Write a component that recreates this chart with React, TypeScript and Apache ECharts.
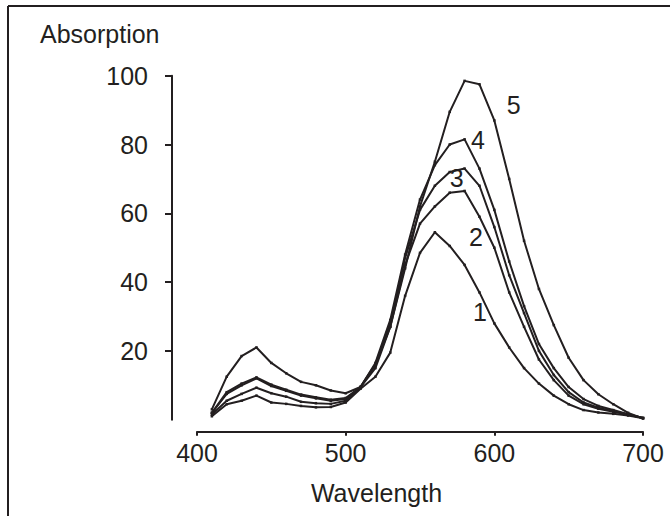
import React, { useEffect, useRef } from "react";
import * as echarts from "echarts";

const wavelengths = [410, 420, 430, 440, 450, 460, 470, 480, 490, 500, 510, 520, 530, 540, 550, 560, 570, 580, 590, 600, 610, 620, 630, 640, 650, 660, 670, 680, 690, 700];

const series1 = [1, 4.5, 5.5, 7, 5, 4.6, 4, 3.6, 3.7, 5, 9, 12.5, 19.5, 36, 48.5, 54.5, 50.5, 45, 37, 28, 21, 15, 10.5, 7, 4.5, 2.8, 2.1, 1.7, 1.2, 0.4];
const series2 = [1.5, 5.5, 7.5, 9.3, 7.7, 6.7, 5.2, 4.8, 4.6, 5.5, 9.5, 15, 27, 45, 57, 62, 66, 66.5, 59, 50, 37, 27, 17.5, 11.5, 7, 4.5, 3.2, 2.3, 1.5, 0.5];
const series3 = [2, 7.5, 10, 12, 9.8, 8.4, 7, 6.2, 5.5, 6, 9.5, 16, 28, 47, 61, 68, 72, 73, 68, 56, 42, 31, 20, 13, 8, 5, 3.5, 2.5, 1.5, 0.5];
const series4 = [2, 8, 10.5, 12.3, 10.2, 8.7, 7.3, 6.5, 5.8, 6.3, 9.5, 16.5, 29, 48, 64, 74, 80, 81.5, 73, 61, 46, 33, 22, 15, 9.5, 6, 4, 2.8, 1.6, 0.5];
const series5 = [3, 12.5, 18.5, 21, 16.5, 13.5, 11, 10, 8.5, 7.7, 9.5, 16, 27, 44, 62, 75, 89.5, 98.5, 97.5, 87, 70, 52, 38, 27.5, 18, 11.5, 7.4, 4.5, 2, 0.4];

const seriesNames = ["1", "2", "3", "4", "5"];
const yTicks = [20, 40, 60, 80, 100];
const xTicks = [400, 500, 600, 700];

const FONT = "Liberation Sans, Arial, sans-serif";
const INK = "#231f20";

export default function App() {
  const ref = useRef<HTMLDivElement>(null);
  useEffect(() => {
    if (!ref.current) return;
    const chart = echarts.init(ref.current, null, { renderer: "svg" });
    const all = [series1, series2, series3, series4, series5];
    chart.setOption({
      animation: false,
      backgroundColor: "#ffffff",
      grid: { left: 197, right: 27, top: 75.7, bottom: 96.3, containLabel: false },
      xAxis: {
        type: "value",
        min: 400,
        max: 700,
        interval: 100,
        offset: 12,
        axisLine: { show: true, onZero: false, lineStyle: { color: INK, width: 2 } },
        axisTick: { show: true, length: 4, lineStyle: { color: INK, width: 2 }, customValues: xTicks },
        axisLabel: { show: true, fontSize: 25, fontFamily: FONT, color: INK, margin: 9, customValues: xTicks },
        splitLine: { show: false },
      },
      yAxis: {
        type: "value",
        min: 0,
        max: 100,
        interval: 20,
        offset: 25,
        axisLine: { show: true, lineStyle: { color: INK, width: 2 } },
        axisTick: { show: true, length: 7, lineStyle: { color: INK, width: 2 }, customValues: yTicks },
        axisLabel: { show: true, fontSize: 25, fontFamily: FONT, color: INK, margin: 24, customValues: yTicks },
        splitLine: { show: false },
      },
      series: all.map((vals, i) => ({
        type: "line",
        name: seriesNames[i],
        data: wavelengths.map((w, j) => [w, vals[j]]),
        symbol: "rect",
        symbolSize: 2.5,
        showSymbol: true,
        itemStyle: { color: INK },
        lineStyle: { color: INK, width: 2 },
        z: 2,
      })),
      graphic: [
        { type: "line", shape: { x1: 8, y1: 6, x2: 670, y2: 6 }, style: { stroke: INK, lineWidth: 2 } },
        { type: "line", shape: { x1: 8, y1: 6, x2: 8, y2: 516 }, style: { stroke: INK, lineWidth: 2 } },
        { type: "text", x: 40, y: 34, style: { text: "Absorption", font: `25px ${FONT}`, fill: INK, textAlign: "left", textVerticalAlign: "middle" } },
        { type: "text", x: 376.5, y: 492.5, style: { text: "Wavelength", font: `25px ${FONT}`, fill: INK, textAlign: "center", textVerticalAlign: "middle" } },
        { type: "text", x: 513.7, y: 105, style: { text: "5", font: `25px ${FONT}`, fill: INK, textAlign: "center", textVerticalAlign: "middle" } },
        { type: "text", x: 478, y: 140, style: { text: "4", font: `25px ${FONT}`, fill: INK, textAlign: "center", textVerticalAlign: "middle" } },
        { type: "text", x: 456.7, y: 178, style: { text: "3", font: `25px ${FONT}`, fill: INK, textAlign: "center", textVerticalAlign: "middle" } },
        { type: "text", x: 476, y: 237, style: { text: "2", font: `25px ${FONT}`, fill: INK, textAlign: "center", textVerticalAlign: "middle" } },
        { type: "text", x: 480, y: 312, style: { text: "1", font: `25px ${FONT}`, fill: INK, textAlign: "center", textVerticalAlign: "middle" } },
      ],
    });
    return () => chart.dispose();
  }, []);
  return <div ref={ref} style={{ position: "fixed", left: 0, top: 0, width: 670, height: 516 }} />;
}
